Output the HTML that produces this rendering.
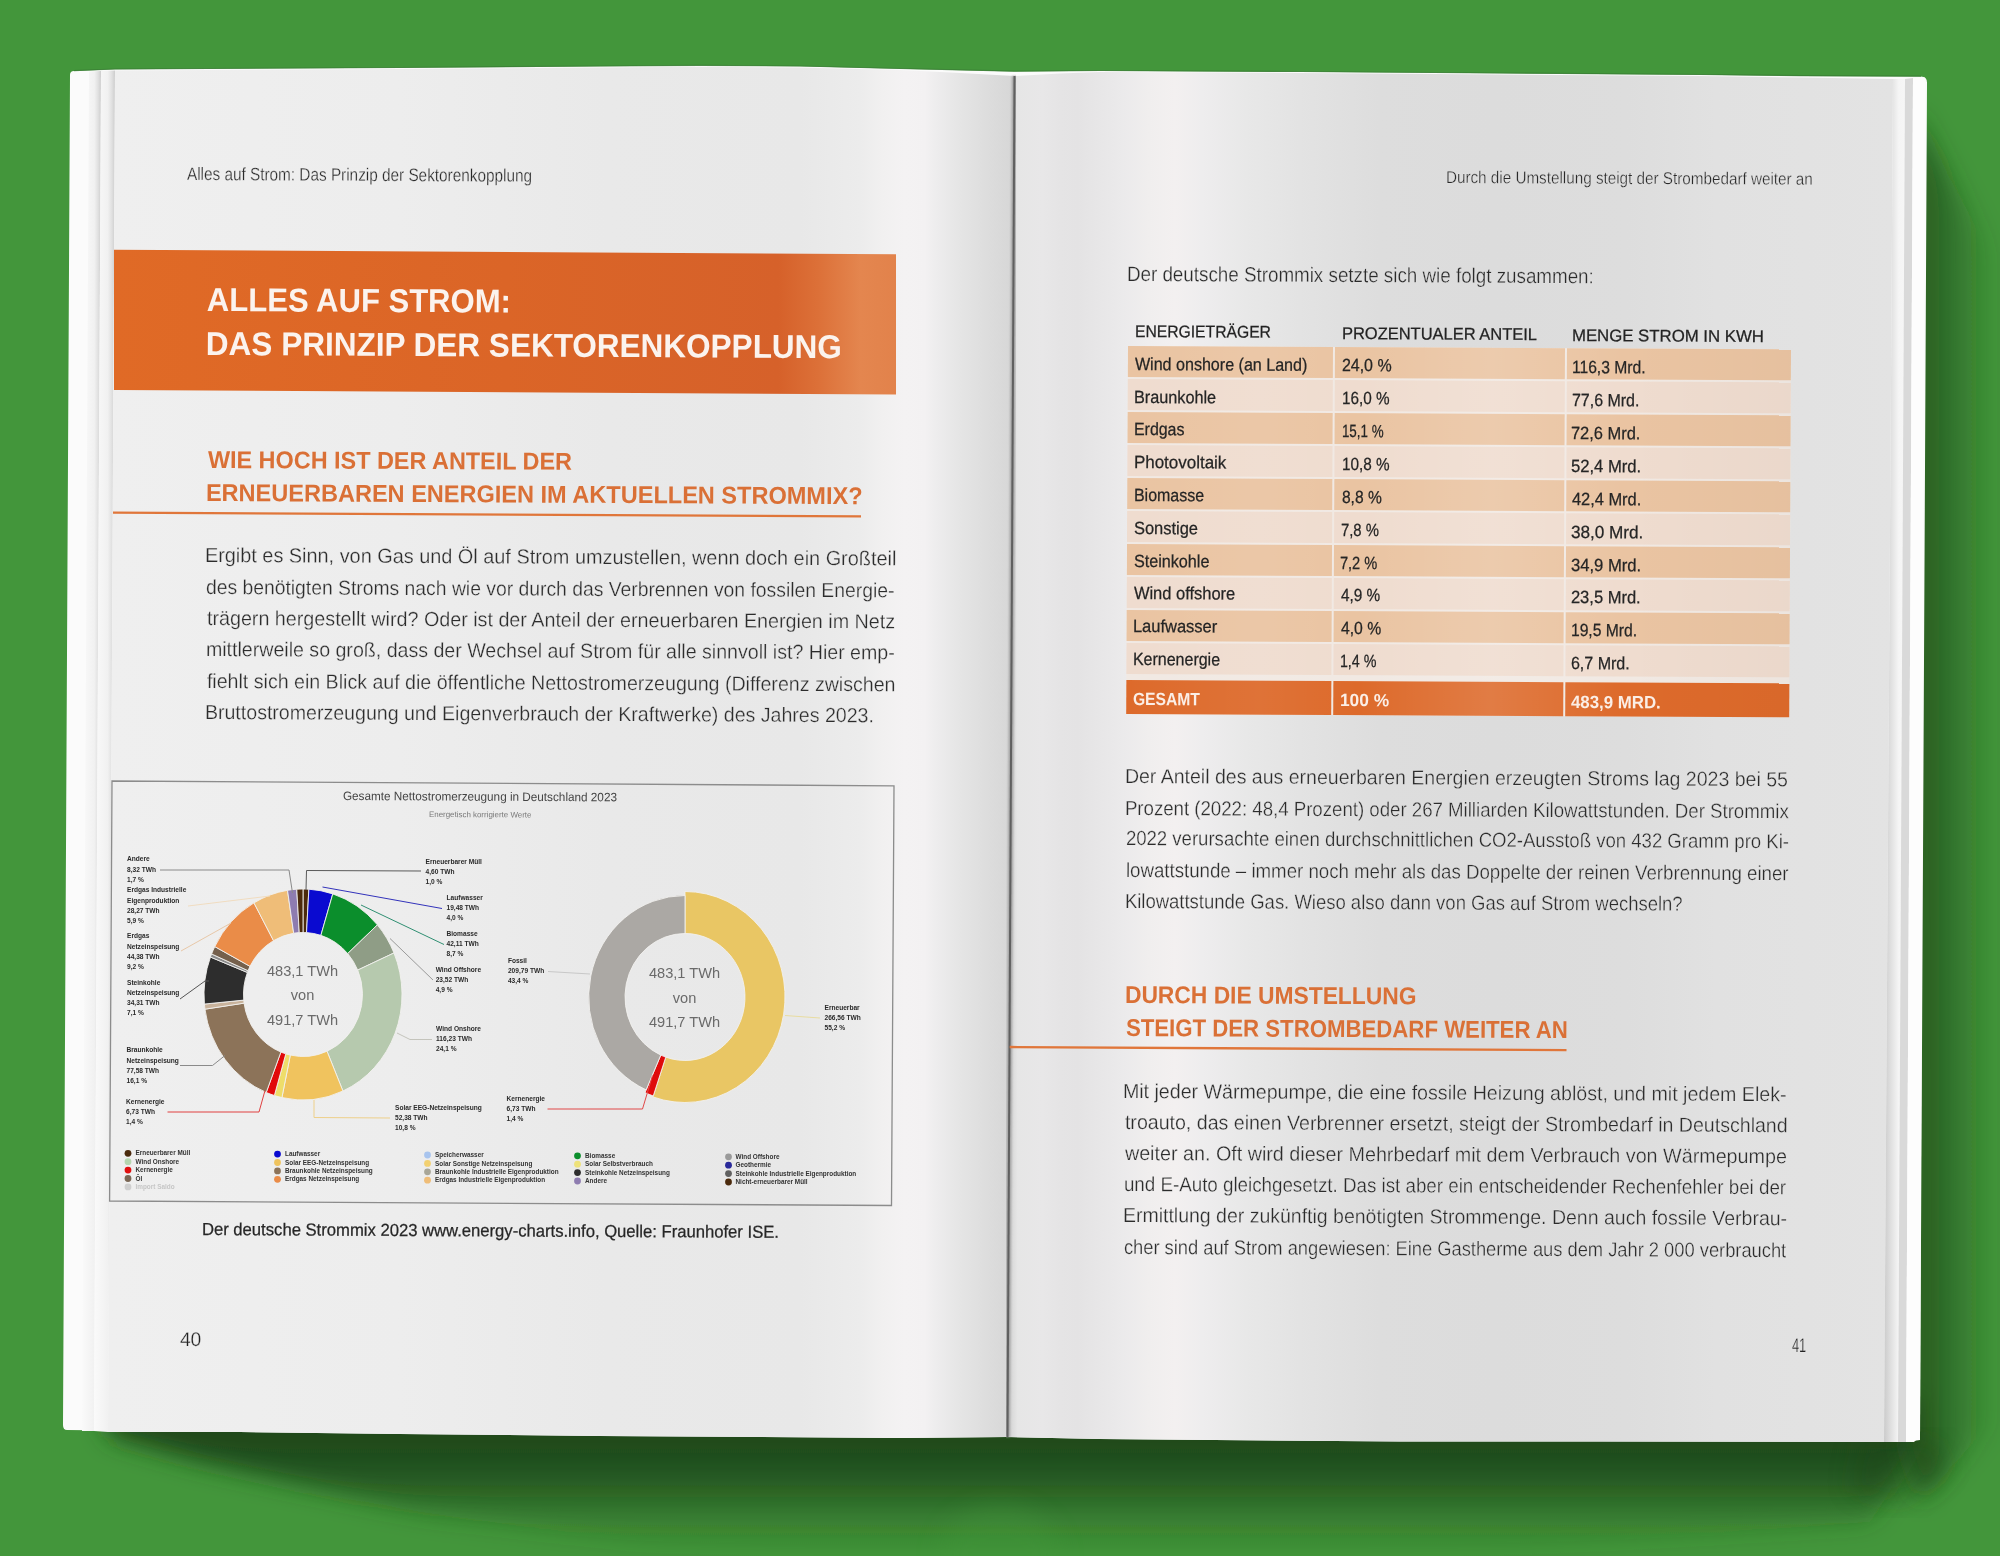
<!DOCTYPE html>
<html><head><meta charset="utf-8"><title>Strommix</title>
<style>
html,body{margin:0;padding:0;}
body{width:2000px;height:1556px;position:relative;overflow:hidden;background:#43963b;font-family:"Liberation Sans",sans-serif;}
.abs{position:absolute;left:0;top:0;}
.t{position:absolute;white-space:pre;line-height:1;transform-origin:0 0;font-family:"Liberation Sans",sans-serif;-webkit-font-smoothing:antialiased;}
#content{position:absolute;left:0;top:0;width:2000px;height:1556px;will-change:transform;}
</style></head><body>
<svg class="abs" width="2000" height="1556" viewBox="0 0 2000 1556">
<defs>
 <filter id="blur20" x="-20%" y="-50%" width="140%" height="200%"><feGaussianBlur stdDeviation="12"/></filter>
 <filter id="blur10" x="-50%" y="-20%" width="200%" height="140%"><feGaussianBlur stdDeviation="12"/></filter>
 <filter id="blur15" x="-100%" y="-20%" width="300%" height="140%"><feGaussianBlur stdDeviation="16"/></filter>
 <filter id="blur2"><feGaussianBlur stdDeviation="1.2"/></filter>
 <linearGradient id="lp" gradientUnits="userSpaceOnUse" x1="108" y1="0" x2="1014.5" y2="0">
  <stop offset="0" stop-color="#efefef"/>
  <stop offset="0.32" stop-color="#ededed"/>
  <stop offset="0.55" stop-color="#e9e9e9"/>
  <stop offset="0.763" stop-color="#e8e8e8"/>
  <stop offset="0.83" stop-color="#ececec"/>
  <stop offset="0.854" stop-color="#f1f0f0"/>
  <stop offset="0.879" stop-color="#f4f2f3"/>
  <stop offset="0.901" stop-color="#f3f1f2"/>
  <stop offset="0.912" stop-color="#eeedee"/>
  <stop offset="0.94" stop-color="#e5e5e5"/>
  <stop offset="0.973" stop-color="#dcdcdc"/>
  <stop offset="1" stop-color="#d6d6d6"/>
 </linearGradient>
 <linearGradient id="rp" gradientUnits="userSpaceOnUse" x1="1007" y1="0" x2="1893" y2="0">
  <stop offset="0" stop-color="#cfcfcf"/>
  <stop offset="0.012" stop-color="#e6e6e6"/>
  <stop offset="0.04" stop-color="#e8e7e8"/>
  <stop offset="0.06" stop-color="#e5e4e5"/>
  <stop offset="0.08" stop-color="#e4e3e4"/>
  <stop offset="0.13" stop-color="#ebeaeb"/>
  <stop offset="0.16" stop-color="#f0eeee"/>
  <stop offset="0.19" stop-color="#f3f0f0"/>
  <stop offset="0.22" stop-color="#eeedee"/>
  <stop offset="0.27" stop-color="#e8e8e8"/>
  <stop offset="0.33" stop-color="#e3e3e3"/>
  <stop offset="0.42" stop-color="#dddddd"/>
  <stop offset="0.55" stop-color="#dcdcdc"/>
  <stop offset="0.7" stop-color="#dddddd"/>
  <stop offset="0.8" stop-color="#e1e1e1"/>
  <stop offset="1" stop-color="#e3e3e3"/>
 </linearGradient>
 <linearGradient id="lay1" gradientUnits="objectBoundingBox" x1="0" y1="0" x2="1" y2="0">
  <stop offset="0" stop-color="#fafafa"/><stop offset="0.65" stop-color="#f1f1f1"/><stop offset="0.85" stop-color="#e0e0e0"/><stop offset="1" stop-color="#cdcdcd"/>
 </linearGradient>
 <linearGradient id="lay2" gradientUnits="objectBoundingBox" x1="0" y1="0" x2="1" y2="0">
  <stop offset="0" stop-color="#cbcbcb"/><stop offset="0.3" stop-color="#dedede"/><stop offset="0.7" stop-color="#f5f5f5"/><stop offset="1" stop-color="#f6f6f6"/>
 </linearGradient>
 <linearGradient id="ban" gradientUnits="userSpaceOnUse" x1="114" y1="0" x2="896" y2="0">
  <stop offset="0" stop-color="#e06a26"/>
  <stop offset="0.5" stop-color="#db6527"/>
  <stop offset="0.85" stop-color="#d6612a"/>
  <stop offset="0.9" stop-color="#dc7038"/>
  <stop offset="0.955" stop-color="#e4864f"/>
  <stop offset="1" stop-color="#e2824b"/>
 </linearGradient>
</defs>
<rect width="2000" height="1556" fill="#43963b"/>
<!-- shadows -->
<linearGradient id="shv" gradientUnits="userSpaceOnUse" x1="0" y1="1400" x2="0" y2="1556">
 <stop offset="0" stop-color="#1b4317" stop-opacity="0.95"/>
 <stop offset="0.3" stop-color="#1b4317" stop-opacity="0.92"/>
 <stop offset="0.5" stop-color="#1b4317" stop-opacity="0.75"/>
 <stop offset="0.75" stop-color="#1b4317" stop-opacity="0.3"/>
 <stop offset="1" stop-color="#1b4317" stop-opacity="0"/>
</linearGradient>
<linearGradient id="shh" gradientUnits="userSpaceOnUse" x1="1915" y1="0" x2="1995" y2="0">
 <stop offset="0" stop-color="#1b4317" stop-opacity="0.75"/>
 <stop offset="0.35" stop-color="#1b4317" stop-opacity="0.5"/>
 <stop offset="1" stop-color="#1b4317" stop-opacity="0"/>
</linearGradient>
<polygon points="100,1400 1008,1400 1918,1400 1918,1442 1870,1522 1500,1550 1060,1560 940,1560 650,1545 420,1512 200,1462 110,1436" fill="url(#shv)" filter="url(#blur20)"/>

<polygon points="1912,110 1995,260 1995,1420 1920,1500 1905,1450" fill="url(#shh)" filter="url(#blur10)"/>
<polygon points="1860,1440 1935,1440 1950,1470 1900,1505 1850,1490" fill="#1b4317" opacity="0.35" filter="url(#blur10)"/>
<ellipse cx="1000" cy="1556" rx="60" ry="50" fill="#43963b" opacity="0.35" filter="url(#blur10)"/>
<!-- cover -->
<path d="M74,71 L115,69.3 L400,67.8 L600,66.3 L700,65.6 L800,66.3 L900,68.8 L1014,71.5 L1100,70.8 L1300,71.8 L1500,73.3 L1700,74.8 L1800,76 L1921,76.5 Q1927,76.5 1927,82.5 L1920,1436 L1914,1442 L1600,1441.5 L1400,1441.5 L1100,1439 L1008,1437 L900,1438 L600,1436 L400,1434 L240,1432 L67,1430 Q63,1430 63,1425 L70,75 Q70,71 74,71Z" fill="#fbfbfb"/>
<polygon points="89,71.5 101,71 94,1431 82,1431" fill="url(#lay1)"/>
<polygon points="101,71 115,70.5 108,1432 94,1431" fill="url(#lay1)"/>
<polygon points="115,70.5 400,69 600,67.5 700,66.8 800,67.5 900,70 960,73 1014.5,76 1007.5,1437 900,1438 600,1436 400,1434 240,1432 108,1432" fill="url(#lp)"/>
<polygon points="1014.5,76 1060,73.5 1100,72 1300,73 1500,74.5 1700,76 1800,77.5 1893,79 1884,1442 1600,1441.5 1400,1441.5 1100,1439 1007.5,1437" fill="url(#rp)"/>
<polygon points="1893,79 1905,79 1898,1442 1884,1442" fill="url(#lay2)"/>
<polygon points="1905,79 1913,78 1906,1442 1898,1442" fill="#d9d9d9"/>
<polygon points="1913,78 1925,77.5 1920,1440 1906,1442" fill="#fdfdfd"/>
<polyline points="74,70.6 115,69 400,67.5 600,66 700,65.3 800,66 900,68.5 1014,71.2 1100,70.5 1300,71.5 1500,73 1700,74.5 1800,75.7 1921,76.2" fill="none" stroke="#3a7d34" stroke-width="1.2" opacity="0.8"/>
<line x1="1014.5" y1="76" x2="1007.5" y2="1437" stroke="#a0a0a0" stroke-width="5" filter="url(#blur2)"/>
<line x1="1014.5" y1="76" x2="1007.5" y2="1437" stroke="#606060" stroke-width="2"/>
<!-- banner -->
<polygon points="114,249.8 896,254.2 896,394.4 114,390" fill="url(#ban)"/>
<!-- heading underlines -->
<line x1="113" y1="512.6" x2="861" y2="516.4" stroke="#e0763a" stroke-width="2.3"/>
<line x1="1009.7" y1="1047" x2="1566.5" y2="1050.2" stroke="#e0763a" stroke-width="2.3"/>
<!-- chart frame -->
<polygon points="112,781 894,785.8 891.5,1205.5 109.6,1201" fill="none" stroke="#8c8c8c" stroke-width="1.3"/>

<g>
<path d="M303.00 889.00A99.00 105.50 0 0 1 308.87 889.19L306.53 932.61A59.50 62.00 0 0 0 303.00 932.50Z" fill="#4b2a0c" stroke="#f2f0ee" stroke-width="0.9"/>
<path d="M308.87 889.19A99.00 105.50 0 0 1 332.77 893.88L320.89 935.37A59.50 62.00 0 0 0 306.53 932.61Z" fill="#0a0ad0" stroke="#f2f0ee" stroke-width="0.9"/>
<path d="M332.77 893.88A99.00 105.50 0 0 1 377.38 924.87L347.70 953.58A59.50 62.00 0 0 0 320.89 935.37Z" fill="#0b8e2c" stroke="#f2f0ee" stroke-width="0.9"/>
<path d="M377.38 924.87A99.00 105.50 0 0 1 393.99 952.94L357.69 970.08A59.50 62.00 0 0 0 347.70 953.58Z" fill="#8f9d86" stroke="#f2f0ee" stroke-width="0.9"/>
<path d="M393.99 952.94A99.00 105.50 0 0 1 342.95 1091.03L327.01 1051.23A59.50 62.00 0 0 0 357.69 970.08Z" fill="#b6c9ae" stroke="#f2f0ee" stroke-width="0.9"/>
<path d="M342.95 1091.03A99.00 105.50 0 0 1 281.91 1097.58L290.32 1055.08A59.50 62.00 0 0 0 327.01 1051.23Z" fill="#f0c35e" stroke="#f2f0ee" stroke-width="0.9"/>
<path d="M281.91 1097.58A99.00 105.50 0 0 1 274.39 1095.50L285.80 1053.85A59.50 62.00 0 0 0 290.32 1055.08Z" fill="#eedd6a" stroke="#f2f0ee" stroke-width="0.9"/>
<path d="M274.39 1095.50A99.00 105.50 0 0 1 266.23 1092.46L280.90 1052.07A59.50 62.00 0 0 0 285.80 1053.85Z" fill="#e10a0a" stroke="#f2f0ee" stroke-width="0.9"/>
<path d="M266.23 1092.46A99.00 105.50 0 0 1 204.96 1009.18L244.08 1003.13A59.50 62.00 0 0 0 280.90 1052.07Z" fill="#8c7359" stroke="#f2f0ee" stroke-width="0.9"/>
<path d="M204.96 1009.18A99.00 105.50 0 0 1 204.41 1004.06L243.74 1000.12A59.50 62.00 0 0 0 244.08 1003.13Z" fill="#c9b39c" stroke="#f2f0ee" stroke-width="0.9"/>
<path d="M204.41 1004.06A99.00 105.50 0 0 1 210.45 957.04L247.38 972.48A59.50 62.00 0 0 0 243.74 1000.12Z" fill="#2d2d2d" stroke="#f2f0ee" stroke-width="0.9"/>
<path d="M210.45 957.04A99.00 105.50 0 0 1 211.60 953.96L248.07 970.67A59.50 62.00 0 0 0 247.38 972.48Z" fill="#8a8a8a" stroke="#f2f0ee" stroke-width="0.9"/>
<path d="M211.60 953.96A99.00 105.50 0 0 1 214.79 946.60L249.99 966.35A59.50 62.00 0 0 0 248.07 970.67Z" fill="#75604c" stroke="#f2f0ee" stroke-width="0.9"/>
<path d="M214.79 946.60A99.00 105.50 0 0 1 253.95 902.86L273.52 940.64A59.50 62.00 0 0 0 249.99 966.35Z" fill="#ea8c48" stroke="#f2f0ee" stroke-width="0.9"/>
<path d="M253.95 902.86A99.00 105.50 0 0 1 287.51 890.30L293.69 933.26A59.50 62.00 0 0 0 273.52 940.64Z" fill="#efbd78" stroke="#f2f0ee" stroke-width="0.9"/>
<path d="M287.51 890.30A99.00 105.50 0 0 1 296.78 889.21L299.26 932.62A59.50 62.00 0 0 0 293.69 933.26Z" fill="#8e7cb0" stroke="#f2f0ee" stroke-width="0.9"/>
<path d="M296.78 889.21A99.00 105.50 0 0 1 303.00 889.00L303.00 932.50A59.50 62.00 0 0 0 299.26 932.62Z" fill="#4b2a0c" stroke="#f2f0ee" stroke-width="0.9"/>
<path d="M685.00 891.50A100.00 105.50 0 1 1 652.94 1096.93L665.76 1057.15A60.00 63.50 0 1 0 685.00 933.50Z" fill="#e9c664" stroke="#f2f0ee" stroke-width="0.9"/>
<path d="M653.26 1095.98A99.00 104.50 0 0 1 645.05 1092.61L660.79 1055.10A60.00 63.50 0 0 0 665.76 1057.15Z" fill="#df0b0b" stroke="#f2f0ee" stroke-width="0.9"/>
<path d="M646.14 1089.87A96.30 101.50 0 0 1 685.00 895.50L685.00 933.50A60.00 63.50 0 0 0 660.79 1055.10Z" fill="#aba8a4" stroke="#f2f0ee" stroke-width="0.9"/>
</g>
<polyline points="160,870 289,870 292.5,893" fill="none" stroke="#8a8a8a" stroke-width="1"/>
<polyline points="306,890 306.5,870.5 421,871" fill="none" stroke="#5a5a5a" stroke-width="1"/>
<polyline points="322.5,887 442,908.5" fill="none" stroke="#3333bb" stroke-width="1"/>
<polyline points="361,905 444,944.5" fill="none" stroke="#2f8f72" stroke-width="1"/>
<polyline points="390,938.5 433,980" fill="none" stroke="#9a9a9a" stroke-width="1"/>
<polyline points="397,1033 410,1039.5 432,1039.5" fill="none" stroke="#c4c4bc" stroke-width="1"/>
<polyline points="314,1100 314,1117.5 390,1118" fill="none" stroke="#eed08a" stroke-width="1"/>
<polyline points="167.5,1112 259,1112 265,1090.5" fill="none" stroke="#e04040" stroke-width="1"/>
<polyline points="180,1065.5 212.5,1065.5 225,1055.5" fill="none" stroke="#8a8a8a" stroke-width="1"/>
<polyline points="180,999 205,981 209,981" fill="none" stroke="#555555" stroke-width="1"/>
<polyline points="181,951 231,923" fill="none" stroke="#e8c8a8" stroke-width="1"/>
<polyline points="188,906 270,896" fill="none" stroke="#f0dcc0" stroke-width="1"/>
<polyline points="548,971.5 590,974" fill="none" stroke="#c8c8c8" stroke-width="1"/>
<polyline points="547.5,1109 642.5,1109 652.5,1075.5" fill="none" stroke="#e04848" stroke-width="1"/>
<polyline points="785,1015.5 820,1018" fill="none" stroke="#e8dca0" stroke-width="1"/>
<circle cx="128.0" cy="1153.3" r="3.4" fill="#4b2a0c"/>
<circle cx="128.0" cy="1161.7" r="3.4" fill="#b6d6b0"/>
<circle cx="128.0" cy="1170.1" r="3.4" fill="#e01010"/>
<circle cx="128.0" cy="1178.5" r="3.4" fill="#7a6654"/>
<circle cx="128.0" cy="1186.9" r="3.4" fill="#cfcfcf"/>
<circle cx="277.5" cy="1154.1" r="3.4" fill="#0a0ad0"/>
<circle cx="277.5" cy="1162.5" r="3.4" fill="#efc35e"/>
<circle cx="277.5" cy="1170.9" r="3.4" fill="#8c7359"/>
<circle cx="277.5" cy="1179.3" r="3.4" fill="#ea8c48"/>
<circle cx="427.5" cy="1155.0" r="3.4" fill="#a8c4ee"/>
<circle cx="427.5" cy="1163.4" r="3.4" fill="#f2d070"/>
<circle cx="427.5" cy="1171.8" r="3.4" fill="#a8a698"/>
<circle cx="427.5" cy="1180.2" r="3.4" fill="#efbd78"/>
<circle cx="577.5" cy="1155.8" r="3.4" fill="#0b8e2c"/>
<circle cx="577.5" cy="1164.2" r="3.4" fill="#eee27a"/>
<circle cx="577.5" cy="1172.6" r="3.4" fill="#2d2d2d"/>
<circle cx="577.5" cy="1181.0" r="3.4" fill="#8e7cb0"/>
<circle cx="728.5" cy="1156.8" r="3.4" fill="#9a9a9a"/>
<circle cx="728.5" cy="1165.2" r="3.4" fill="#2a2a9a"/>
<circle cx="728.5" cy="1173.6" r="3.4" fill="#606060"/>
<circle cx="728.5" cy="1182.0" r="3.4" fill="#4b2a0c"/>
</svg>
<div id="content">
<div class="abs" style="left:1128px;top:346.1px;width:663px;height:367.5px;background:#f1e9e3;transform-origin:0 0;transform:rotate(0.28deg)"><div class="abs" style="left:0.0px;top:0.0px;width:205.0px;height:31px;background:#eac4a2"></div>
<div class="abs" style="left:207.0px;top:0.0px;width:229.5px;height:31px;background:#eac4a2"></div>
<div class="abs" style="left:438.5px;top:0.0px;width:224.5px;height:31px;background:#eac4a2"></div>
<div class="abs" style="left:0.0px;top:33.0px;width:205.0px;height:31px;background:#efdccf"></div>
<div class="abs" style="left:207.0px;top:33.0px;width:229.5px;height:31px;background:#efdccf"></div>
<div class="abs" style="left:438.5px;top:33.0px;width:224.5px;height:31px;background:#efdccf"></div>
<div class="abs" style="left:0.0px;top:66.1px;width:205.0px;height:31px;background:#eac4a2"></div>
<div class="abs" style="left:207.0px;top:66.1px;width:229.5px;height:31px;background:#eac4a2"></div>
<div class="abs" style="left:438.5px;top:66.1px;width:224.5px;height:31px;background:#eac4a2"></div>
<div class="abs" style="left:0.0px;top:99.1px;width:205.0px;height:31px;background:#efdccf"></div>
<div class="abs" style="left:207.0px;top:99.1px;width:229.5px;height:31px;background:#efdccf"></div>
<div class="abs" style="left:438.5px;top:99.1px;width:224.5px;height:31px;background:#efdccf"></div>
<div class="abs" style="left:0.0px;top:132.2px;width:205.0px;height:31px;background:#eac4a2"></div>
<div class="abs" style="left:207.0px;top:132.2px;width:229.5px;height:31px;background:#eac4a2"></div>
<div class="abs" style="left:438.5px;top:132.2px;width:224.5px;height:31px;background:#eac4a2"></div>
<div class="abs" style="left:0.0px;top:165.2px;width:205.0px;height:31px;background:#efdccf"></div>
<div class="abs" style="left:207.0px;top:165.2px;width:229.5px;height:31px;background:#efdccf"></div>
<div class="abs" style="left:438.5px;top:165.2px;width:224.5px;height:31px;background:#efdccf"></div>
<div class="abs" style="left:0.0px;top:198.2px;width:205.0px;height:31px;background:#eac4a2"></div>
<div class="abs" style="left:207.0px;top:198.2px;width:229.5px;height:31px;background:#eac4a2"></div>
<div class="abs" style="left:438.5px;top:198.2px;width:224.5px;height:31px;background:#eac4a2"></div>
<div class="abs" style="left:0.0px;top:231.3px;width:205.0px;height:31px;background:#efdccf"></div>
<div class="abs" style="left:207.0px;top:231.3px;width:229.5px;height:31px;background:#efdccf"></div>
<div class="abs" style="left:438.5px;top:231.3px;width:224.5px;height:31px;background:#efdccf"></div>
<div class="abs" style="left:0.0px;top:264.3px;width:205.0px;height:31px;background:#eac4a2"></div>
<div class="abs" style="left:207.0px;top:264.3px;width:229.5px;height:31px;background:#eac4a2"></div>
<div class="abs" style="left:438.5px;top:264.3px;width:224.5px;height:31px;background:#eac4a2"></div>
<div class="abs" style="left:0.0px;top:297.4px;width:205.0px;height:31px;background:#efdccf"></div>
<div class="abs" style="left:207.0px;top:297.4px;width:229.5px;height:31px;background:#efdccf"></div>
<div class="abs" style="left:438.5px;top:297.4px;width:224.5px;height:31px;background:#efdccf"></div>
<div class="abs" style="left:0.0px;top:334px;width:205.0px;height:33.5px;background:#dd6a2b"></div>
<div class="abs" style="left:207.0px;top:334px;width:229.5px;height:33.5px;background:#dd6a2b"></div>
<div class="abs" style="left:438.5px;top:334px;width:224.5px;height:33.5px;background:#dd6a2b"></div>
<div class="abs" style="left:0;top:0;width:663px;height:368px;background:linear-gradient(90deg,rgba(255,255,255,0) 0%,rgba(255,255,255,0.06) 20%,rgba(255,255,255,0.0) 35%,rgba(255,255,255,0.12) 55%,rgba(255,255,255,0.0) 75%,rgba(0,0,0,0.02) 100%)"></div></div>
<div class="t c" style="left:302.5px;top:964.1px;width:120px;margin-left:-60px;font-size:14.6px;color:#6a6a6a;text-align:center">483,1 TWh</div>
<div class="t c" style="left:302.5px;top:988.4px;width:120px;margin-left:-60px;font-size:14.6px;color:#6a6a6a;text-align:center">von</div>
<div class="t c" style="left:302.5px;top:1012.7px;width:120px;margin-left:-60px;font-size:14.6px;color:#6a6a6a;text-align:center">491,7 TWh</div>
<div class="t c" style="left:684.5px;top:966.3px;width:120px;margin-left:-60px;font-size:14.6px;color:#6a6a6a;text-align:center">483,1 TWh</div>
<div class="t c" style="left:684.5px;top:990.6px;width:120px;margin-left:-60px;font-size:14.6px;color:#6a6a6a;text-align:center">von</div>
<div class="t c" style="left:684.5px;top:1014.9px;width:120px;margin-left:-60px;font-size:14.6px;color:#6a6a6a;text-align:center">491,7 TWh</div>
<div class="t" style="left:127.0px;top:856.4px;font-size:6.6px;font-weight:700;color:#2a2a2a">Andere</div>
<div class="t" style="left:127.0px;top:866.5px;font-size:6.6px;font-weight:700;color:#2a2a2a">8,32 TWh</div>
<div class="t" style="left:127.0px;top:876.6px;font-size:6.6px;font-weight:700;color:#2a2a2a">1,7 %</div>
<div class="t" style="left:127.0px;top:887.4px;font-size:6.6px;font-weight:700;color:#2a2a2a">Erdgas Industrielle</div>
<div class="t" style="left:127.0px;top:897.5px;font-size:6.6px;font-weight:700;color:#2a2a2a">Eigenproduktion</div>
<div class="t" style="left:127.0px;top:907.6px;font-size:6.6px;font-weight:700;color:#2a2a2a">28,27 TWh</div>
<div class="t" style="left:127.0px;top:917.7px;font-size:6.6px;font-weight:700;color:#2a2a2a">5,9 %</div>
<div class="t" style="left:127.0px;top:933.4px;font-size:6.6px;font-weight:700;color:#2a2a2a">Erdgas</div>
<div class="t" style="left:127.0px;top:943.5px;font-size:6.6px;font-weight:700;color:#2a2a2a">Netzeinspeisung</div>
<div class="t" style="left:127.0px;top:953.6px;font-size:6.6px;font-weight:700;color:#2a2a2a">44,38 TWh</div>
<div class="t" style="left:127.0px;top:963.7px;font-size:6.6px;font-weight:700;color:#2a2a2a">9,2 %</div>
<div class="t" style="left:127.0px;top:979.9px;font-size:6.6px;font-weight:700;color:#2a2a2a">Steinkohle</div>
<div class="t" style="left:127.0px;top:990.0px;font-size:6.6px;font-weight:700;color:#2a2a2a">Netzeinspeisung</div>
<div class="t" style="left:127.0px;top:1000.1px;font-size:6.6px;font-weight:700;color:#2a2a2a">34,31 TWh</div>
<div class="t" style="left:127.0px;top:1010.2px;font-size:6.6px;font-weight:700;color:#2a2a2a">7,1 %</div>
<div class="t" style="left:126.5px;top:1047.4px;font-size:6.6px;font-weight:700;color:#2a2a2a">Braunkohle</div>
<div class="t" style="left:126.5px;top:1057.5px;font-size:6.6px;font-weight:700;color:#2a2a2a">Netzeinspeisung</div>
<div class="t" style="left:126.5px;top:1067.6px;font-size:6.6px;font-weight:700;color:#2a2a2a">77,58 TWh</div>
<div class="t" style="left:126.5px;top:1077.7px;font-size:6.6px;font-weight:700;color:#2a2a2a">16,1 %</div>
<div class="t" style="left:126.0px;top:1098.9px;font-size:6.6px;font-weight:700;color:#2a2a2a">Kernenergie</div>
<div class="t" style="left:126.0px;top:1109.0px;font-size:6.6px;font-weight:700;color:#2a2a2a">6,73 TWh</div>
<div class="t" style="left:126.0px;top:1119.1px;font-size:6.6px;font-weight:700;color:#2a2a2a">1,4 %</div>
<div class="t" style="left:425.5px;top:858.6px;font-size:6.6px;font-weight:700;color:#2a2a2a">Erneuerbarer Müll</div>
<div class="t" style="left:425.5px;top:868.7px;font-size:6.6px;font-weight:700;color:#2a2a2a">4,60 TWh</div>
<div class="t" style="left:425.5px;top:878.8px;font-size:6.6px;font-weight:700;color:#2a2a2a">1,0 %</div>
<div class="t" style="left:446.5px;top:895.0px;font-size:6.6px;font-weight:700;color:#2a2a2a">Laufwasser</div>
<div class="t" style="left:446.5px;top:905.1px;font-size:6.6px;font-weight:700;color:#2a2a2a">19,48 TWh</div>
<div class="t" style="left:446.5px;top:915.2px;font-size:6.6px;font-weight:700;color:#2a2a2a">4,0 %</div>
<div class="t" style="left:446.5px;top:930.8px;font-size:6.6px;font-weight:700;color:#2a2a2a">Biomasse</div>
<div class="t" style="left:446.5px;top:940.9px;font-size:6.6px;font-weight:700;color:#2a2a2a">42,11 TWh</div>
<div class="t" style="left:446.5px;top:951.0px;font-size:6.6px;font-weight:700;color:#2a2a2a">8,7 %</div>
<div class="t" style="left:435.7px;top:967.2px;font-size:6.6px;font-weight:700;color:#2a2a2a">Wind Offshore</div>
<div class="t" style="left:435.7px;top:977.3px;font-size:6.6px;font-weight:700;color:#2a2a2a">23,52 TWh</div>
<div class="t" style="left:435.7px;top:987.4px;font-size:6.6px;font-weight:700;color:#2a2a2a">4,9 %</div>
<div class="t" style="left:436.0px;top:1026.0px;font-size:6.6px;font-weight:700;color:#2a2a2a">Wind Onshore</div>
<div class="t" style="left:436.0px;top:1036.1px;font-size:6.6px;font-weight:700;color:#2a2a2a">116,23 TWh</div>
<div class="t" style="left:436.0px;top:1046.2px;font-size:6.6px;font-weight:700;color:#2a2a2a">24,1 %</div>
<div class="t" style="left:395.0px;top:1104.9px;font-size:6.6px;font-weight:700;color:#2a2a2a">Solar EEG-Netzeinspeisung</div>
<div class="t" style="left:395.0px;top:1115.0px;font-size:6.6px;font-weight:700;color:#2a2a2a">52,38 TWh</div>
<div class="t" style="left:395.0px;top:1125.1px;font-size:6.6px;font-weight:700;color:#2a2a2a">10,8 %</div>
<div class="t" style="left:507.9px;top:957.8px;font-size:6.6px;font-weight:700;color:#2a2a2a">Fossil</div>
<div class="t" style="left:507.9px;top:967.9px;font-size:6.6px;font-weight:700;color:#2a2a2a">209,79 TWh</div>
<div class="t" style="left:507.9px;top:978.0px;font-size:6.6px;font-weight:700;color:#2a2a2a">43,4 %</div>
<div class="t" style="left:506.5px;top:1095.9px;font-size:6.6px;font-weight:700;color:#2a2a2a">Kernenergie</div>
<div class="t" style="left:506.5px;top:1106.0px;font-size:6.6px;font-weight:700;color:#2a2a2a">6,73 TWh</div>
<div class="t" style="left:506.5px;top:1116.1px;font-size:6.6px;font-weight:700;color:#2a2a2a">1,4 %</div>
<div class="t" style="left:824.5px;top:1004.9px;font-size:6.6px;font-weight:700;color:#2a2a2a">Erneuerbar</div>
<div class="t" style="left:824.5px;top:1015.0px;font-size:6.6px;font-weight:700;color:#2a2a2a">266,56 TWh</div>
<div class="t" style="left:824.5px;top:1025.1px;font-size:6.6px;font-weight:700;color:#2a2a2a">55,2 %</div>
<div class="t" style="left:135.5px;top:1150.4px;font-size:6.4px;font-weight:700;color:#333">Erneuerbarer Müll</div>
<div class="t" style="left:135.5px;top:1158.8px;font-size:6.4px;font-weight:700;color:#333">Wind Onshore</div>
<div class="t" style="left:135.5px;top:1167.2px;font-size:6.4px;font-weight:700;color:#333">Kernenergie</div>
<div class="t" style="left:135.5px;top:1175.6px;font-size:6.4px;font-weight:700;color:#333">Öl</div>
<div class="t" style="left:135.5px;top:1184.0px;font-size:6.4px;font-weight:700;color:#c6c6c6">Import Saldo</div>
<div class="t" style="left:285.0px;top:1151.2px;font-size:6.4px;font-weight:700;color:#333">Laufwasser</div>
<div class="t" style="left:285.0px;top:1159.6px;font-size:6.4px;font-weight:700;color:#333">Solar EEG-Netzeinspeisung</div>
<div class="t" style="left:285.0px;top:1168.0px;font-size:6.4px;font-weight:700;color:#333">Braunkohle Netzeinspeisung</div>
<div class="t" style="left:285.0px;top:1176.4px;font-size:6.4px;font-weight:700;color:#333">Erdgas Netzeinspeisung</div>
<div class="t" style="left:435.0px;top:1152.1px;font-size:6.4px;font-weight:700;color:#333">Speicherwasser</div>
<div class="t" style="left:435.0px;top:1160.5px;font-size:6.4px;font-weight:700;color:#333">Solar Sonstige Netzeinspeisung</div>
<div class="t" style="left:435.0px;top:1168.9px;font-size:6.4px;font-weight:700;color:#333">Braunkohle Industrielle Eigenproduktion</div>
<div class="t" style="left:435.0px;top:1177.3px;font-size:6.4px;font-weight:700;color:#333">Erdgas Industrielle Eigenproduktion</div>
<div class="t" style="left:585.0px;top:1152.9px;font-size:6.4px;font-weight:700;color:#333">Biomasse</div>
<div class="t" style="left:585.0px;top:1161.3px;font-size:6.4px;font-weight:700;color:#333">Solar Selbstverbrauch</div>
<div class="t" style="left:585.0px;top:1169.7px;font-size:6.4px;font-weight:700;color:#333">Steinkohle Netzeinspeisung</div>
<div class="t" style="left:585.0px;top:1178.1px;font-size:6.4px;font-weight:700;color:#333">Andere</div>
<div class="t" style="left:735.5px;top:1153.9px;font-size:6.4px;font-weight:700;color:#333">Wind Offshore</div>
<div class="t" style="left:735.5px;top:1162.3px;font-size:6.4px;font-weight:700;color:#333">Geothermie</div>
<div class="t" style="left:735.5px;top:1170.7px;font-size:6.4px;font-weight:700;color:#333">Steinkohle Industrielle Eigenproduktion</div>
<div class="t" style="left:735.5px;top:1179.1px;font-size:6.4px;font-weight:700;color:#333">Nicht-erneuerbarer Müll</div>
<div class="t" style="left:187.00px;top:164.76px;font-size:18.00px;font-weight:400;color:#2a2a2a;-webkit-text-stroke:0.28px #ebebeb;transform:rotate(0.28deg) scaleX(0.8515)">Alles auf Strom: Das Prinzip der Sektorenkopplung</div>
<div class="t" style="left:207.06px;top:283.06px;font-size:33.00px;font-weight:700;color:#fbf3ee;transform:rotate(0.28deg) scaleX(0.9404)">ALLES AUF STROM:</div>
<div class="t" style="left:206.09px;top:326.56px;font-size:33.00px;font-weight:700;color:#fbf3ee;transform:rotate(0.28deg) scaleX(0.9547)">DAS PRINZIP DER SEKTORENKOPPLUNG</div>
<div class="t" style="left:208.00px;top:448.06px;font-size:24.50px;font-weight:700;color:#da7036;transform:rotate(0.28deg) scaleX(0.9554)">WIE HOCH IST DER ANTEIL DER</div>
<div class="t" style="left:206.08px;top:480.56px;font-size:24.50px;font-weight:700;color:#da7036;transform:rotate(0.28deg) scaleX(0.9603)">ERNEUERBAREN ENERGIEN IM AKTUELLEN STROMMIX?</div>
<div class="t" style="left:204.55px;top:545.13px;font-size:20.40px;font-weight:400;color:#2c2c2c;-webkit-text-stroke:0.28px #ebebeb;transform:rotate(0.28deg) scaleX(0.9745)">Ergibt es Sinn, von Gas und Öl auf Strom umzustellen, wenn doch ein Großteil</div>
<div class="t" style="left:205.55px;top:576.73px;font-size:20.40px;font-weight:400;color:#2c2c2c;-webkit-text-stroke:0.28px #ebebeb;transform:rotate(0.28deg) scaleX(0.9476)">des benötigten Stroms nach wie vor durch das Verbrennen von fossilen Energie-</div>
<div class="t" style="left:206.50px;top:607.73px;font-size:20.40px;font-weight:400;color:#2c2c2c;-webkit-text-stroke:0.28px #ebebeb;transform:rotate(0.28deg) scaleX(0.9669)">trägern hergestellt wird? Oder ist der Anteil der erneuerbaren Energien im Netz</div>
<div class="t" style="left:205.54px;top:639.23px;font-size:20.40px;font-weight:400;color:#2c2c2c;-webkit-text-stroke:0.28px #ebebeb;transform:rotate(0.28deg) scaleX(0.9608)">mittlerweile so groß, dass der Wechsel auf Strom für alle sinnvoll ist? Hier emp-</div>
<div class="t" style="left:206.50px;top:670.73px;font-size:20.40px;font-weight:400;color:#2c2c2c;-webkit-text-stroke:0.28px #ebebeb;transform:rotate(0.28deg) scaleX(0.9608)">fiehlt sich ein Blick auf die öffentliche Nettostromerzeugung (Differenz zwischen</div>
<div class="t" style="left:204.58px;top:701.73px;font-size:20.40px;font-weight:400;color:#2c2c2c;-webkit-text-stroke:0.28px #ebebeb;transform:rotate(0.28deg) scaleX(0.9597)">Bruttostromerzeugung und Eigenverbrauch der Kraftwerke) des Jahres 2023.</div>
<div class="t" style="left:343.04px;top:790.17px;font-size:12.20px;font-weight:400;color:#444;transform:rotate(0.28deg) scaleX(0.9629)">Gesamte Nettostromerzeugung in Deutschland 2023</div>
<div class="t" style="left:429.01px;top:810.73px;font-size:8.00px;font-weight:400;color:#777;transform:rotate(0.28deg) scaleX(0.9902)">Energetisch korrigierte Werte</div>
<div class="t" style="left:201.54px;top:1221.27px;font-size:17.40px;font-weight:400;color:#262626;-webkit-text-stroke:0.25px currentColor;transform:rotate(0.28deg) scaleX(0.9567)">Der deutsche Strommix 2023 www.energy-charts.info, Quelle: Fraunhofer ISE.</div>
<div class="t" style="left:179.60px;top:1330.44px;font-size:19.80px;font-weight:400;color:#222;-webkit-text-stroke:0.28px #ebebeb;transform:rotate(0.28deg) scaleX(0.9714)">40</div>
<div class="t" style="left:1446.11px;top:168.94px;font-size:17.20px;font-weight:400;color:#2a2a2a;-webkit-text-stroke:0.28px #ebebeb;transform:rotate(0.28deg) scaleX(0.8869)">Durch die Umstellung steigt der Strombedarf weiter an</div>
<div class="t" style="left:1127.40px;top:263.50px;font-size:20.90px;font-weight:400;color:#2a2a2a;-webkit-text-stroke:0.28px #ebebeb;transform:rotate(0.28deg) scaleX(0.8996)">Der deutsche Strommix setzte sich wie folgt zusammen:</div>
<div class="t" style="left:1134.87px;top:324.19px;font-size:16.90px;font-weight:400;color:#222;-webkit-text-stroke:0.25px currentColor;transform:rotate(0.28deg) scaleX(0.9290)">ENERGIETRÄGER</div>
<div class="t" style="left:1342.22px;top:326.39px;font-size:16.90px;font-weight:400;color:#222;-webkit-text-stroke:0.25px currentColor;transform:rotate(0.28deg) scaleX(0.9754)">PROZENTUALER ANTEIL</div>
<div class="t" style="left:1571.91px;top:328.39px;font-size:16.90px;font-weight:400;color:#222;-webkit-text-stroke:0.25px currentColor;transform:rotate(0.28deg) scaleX(0.9932)">MENGE STROM IN KWH</div>
<div class="t" style="left:1135.10px;top:355.51px;font-size:17.70px;font-weight:400;color:#252525;-webkit-text-stroke:0.25px currentColor;transform:rotate(0.28deg) scaleX(0.9085)">Wind onshore (an Land)</div>
<div class="t" style="left:1341.50px;top:356.91px;font-size:17.70px;font-weight:400;color:#252525;-webkit-text-stroke:0.25px currentColor;transform:rotate(0.28deg) scaleX(0.9019)">24,0 %</div>
<div class="t" style="left:1571.52px;top:359.01px;font-size:17.70px;font-weight:400;color:#252525;-webkit-text-stroke:0.25px currentColor;transform:rotate(0.28deg) scaleX(0.8840)">116,3 Mrd.</div>
<div class="t" style="left:1134.18px;top:388.51px;font-size:17.70px;font-weight:400;color:#252525;-webkit-text-stroke:0.25px currentColor;transform:rotate(0.28deg) scaleX(0.9182)">Braunkohle</div>
<div class="t" style="left:1341.54px;top:389.81px;font-size:17.70px;font-weight:400;color:#252525;-webkit-text-stroke:0.25px currentColor;transform:rotate(0.28deg) scaleX(0.8630)">16,0 %</div>
<div class="t" style="left:1571.50px;top:391.91px;font-size:17.70px;font-weight:400;color:#252525;-webkit-text-stroke:0.25px currentColor;transform:rotate(0.28deg) scaleX(0.9028)">77,6 Mrd.</div>
<div class="t" style="left:1134.20px;top:421.41px;font-size:17.70px;font-weight:400;color:#252525;-webkit-text-stroke:0.25px currentColor;transform:rotate(0.28deg) scaleX(0.9018)">Erdgas</div>
<div class="t" style="left:1341.64px;top:423.31px;font-size:17.70px;font-weight:400;color:#252525;-webkit-text-stroke:0.25px currentColor;transform:rotate(0.28deg) scaleX(0.7556)">15,1 %</div>
<div class="t" style="left:1571.47px;top:425.41px;font-size:17.70px;font-weight:400;color:#252525;-webkit-text-stroke:0.25px currentColor;transform:rotate(0.28deg) scaleX(0.9292)">72,6 Mrd.</div>
<div class="t" style="left:1134.14px;top:454.41px;font-size:17.70px;font-weight:400;color:#252525;-webkit-text-stroke:0.25px currentColor;transform:rotate(0.28deg) scaleX(0.9589)">Photovoltaik</div>
<div class="t" style="left:1341.54px;top:456.21px;font-size:17.70px;font-weight:400;color:#252525;-webkit-text-stroke:0.25px currentColor;transform:rotate(0.28deg) scaleX(0.8630)">10,8 %</div>
<div class="t" style="left:1570.66px;top:458.31px;font-size:17.70px;font-weight:400;color:#252525;-webkit-text-stroke:0.25px currentColor;transform:rotate(0.28deg) scaleX(0.9403)">52,4 Mrd.</div>
<div class="t" style="left:1134.20px;top:486.61px;font-size:17.70px;font-weight:400;color:#252525;-webkit-text-stroke:0.25px currentColor;transform:rotate(0.28deg) scaleX(0.9026)">Biomasse</div>
<div class="t" style="left:1341.52px;top:489.21px;font-size:17.70px;font-weight:400;color:#252525;-webkit-text-stroke:0.25px currentColor;transform:rotate(0.28deg) scaleX(0.8795)">8,8 %</div>
<div class="t" style="left:1571.60px;top:491.31px;font-size:17.70px;font-weight:400;color:#252525;-webkit-text-stroke:0.25px currentColor;transform:rotate(0.28deg) scaleX(0.9274)">42,4 Mrd.</div>
<div class="t" style="left:1133.67px;top:520.31px;font-size:17.70px;font-weight:400;color:#252525;-webkit-text-stroke:0.25px currentColor;transform:rotate(0.28deg) scaleX(0.9299)">Sonstige</div>
<div class="t" style="left:1340.76px;top:522.11px;font-size:17.70px;font-weight:400;color:#252525;-webkit-text-stroke:0.25px currentColor;transform:rotate(0.28deg) scaleX(0.8386)">7,8 %</div>
<div class="t" style="left:1570.63px;top:523.71px;font-size:17.70px;font-weight:400;color:#252525;-webkit-text-stroke:0.25px currentColor;transform:rotate(0.28deg) scaleX(0.9694)">38,0 Mrd.</div>
<div class="t" style="left:1133.69px;top:552.51px;font-size:17.70px;font-weight:400;color:#252525;-webkit-text-stroke:0.25px currentColor;transform:rotate(0.28deg) scaleX(0.9136)">Steinkohle</div>
<div class="t" style="left:1340.27px;top:555.01px;font-size:17.70px;font-weight:400;color:#252525;-webkit-text-stroke:0.25px currentColor;transform:rotate(0.28deg) scaleX(0.8250)">7,2 %</div>
<div class="t" style="left:1570.66px;top:556.61px;font-size:17.70px;font-weight:400;color:#252525;-webkit-text-stroke:0.25px currentColor;transform:rotate(0.28deg) scaleX(0.9403)">34,9 Mrd.</div>
<div class="t" style="left:1134.20px;top:585.01px;font-size:17.70px;font-weight:400;color:#252525;-webkit-text-stroke:0.25px currentColor;transform:rotate(0.28deg) scaleX(0.9306)">Wind offshore</div>
<div class="t" style="left:1341.10px;top:587.41px;font-size:17.70px;font-weight:400;color:#252525;-webkit-text-stroke:0.25px currentColor;transform:rotate(0.28deg) scaleX(0.8667)">4,9 %</div>
<div class="t" style="left:1570.67px;top:588.71px;font-size:17.70px;font-weight:400;color:#252525;-webkit-text-stroke:0.25px currentColor;transform:rotate(0.28deg) scaleX(0.9333)">23,5 Mrd.</div>
<div class="t" style="left:1133.27px;top:618.01px;font-size:17.70px;font-weight:400;color:#252525;-webkit-text-stroke:0.25px currentColor;transform:rotate(0.28deg) scaleX(0.9326)">Laufwasser</div>
<div class="t" style="left:1341.10px;top:620.31px;font-size:17.70px;font-weight:400;color:#252525;-webkit-text-stroke:0.25px currentColor;transform:rotate(0.28deg) scaleX(0.8889)">4,0 %</div>
<div class="t" style="left:1570.72px;top:621.71px;font-size:17.70px;font-weight:400;color:#252525;-webkit-text-stroke:0.25px currentColor;transform:rotate(0.28deg) scaleX(0.8847)">19,5 Mrd.</div>
<div class="t" style="left:1133.30px;top:651.01px;font-size:17.70px;font-weight:400;color:#252525;-webkit-text-stroke:0.25px currentColor;transform:rotate(0.28deg) scaleX(0.9042)">Kernenergie</div>
<div class="t" style="left:1340.29px;top:653.31px;font-size:17.70px;font-weight:400;color:#252525;-webkit-text-stroke:0.25px currentColor;transform:rotate(0.28deg) scaleX(0.8068)">1,4 %</div>
<div class="t" style="left:1570.69px;top:654.61px;font-size:17.70px;font-weight:400;color:#252525;-webkit-text-stroke:0.25px currentColor;transform:rotate(0.28deg) scaleX(0.9063)">6,7 Mrd.</div>
<div class="t" style="left:1133.31px;top:690.71px;font-size:17.70px;font-weight:700;color:#fbeee6;transform:rotate(0.28deg) scaleX(0.8853)">GESAMT</div>
<div class="t" style="left:1339.52px;top:692.31px;font-size:17.70px;font-weight:700;color:#fbeee6;transform:rotate(0.28deg) scaleX(0.9796)">100 %</div>
<div class="t" style="left:1570.80px;top:694.11px;font-size:17.70px;font-weight:700;color:#fbeee6;transform:rotate(0.28deg) scaleX(0.9516)">483,9 MRD.</div>
<div class="t" style="left:1125.09px;top:765.93px;font-size:20.40px;font-weight:400;color:#2c2c2c;-webkit-text-stroke:0.28px #ebebeb;transform:rotate(0.28deg) scaleX(0.9572)">Der Anteil des aus erneuerbaren Energien erzeugten Stroms lag 2023 bei 55</div>
<div class="t" style="left:1125.17px;top:797.73px;font-size:20.40px;font-weight:400;color:#2c2c2c;-webkit-text-stroke:0.28px #ebebeb;transform:rotate(0.28deg) scaleX(0.9137)">Prozent (2022: 48,4 Prozent) oder 267 Milliarden Kilowattstunden. Der Strommix</div>
<div class="t" style="left:1126.09px;top:828.43px;font-size:20.40px;font-weight:400;color:#2c2c2c;-webkit-text-stroke:0.28px #ebebeb;transform:rotate(0.28deg) scaleX(0.9099)">2022 verursachte einen durchschnittlichen CO2-Ausstoß von 432 Gramm pro Ki-</div>
<div class="t" style="left:1126.09px;top:859.93px;font-size:20.40px;font-weight:400;color:#2c2c2c;-webkit-text-stroke:0.28px #ebebeb;transform:rotate(0.28deg) scaleX(0.9149)">lowattstunde – immer noch mehr als das Doppelte der reinen Verbrennung einer</div>
<div class="t" style="left:1125.19px;top:891.43px;font-size:20.40px;font-weight:400;color:#2c2c2c;-webkit-text-stroke:0.28px #ebebeb;transform:rotate(0.28deg) scaleX(0.9062)">Kilowattstunde Gas. Wieso also dann von Gas auf Strom wechseln?</div>
<div class="t" style="left:1125.44px;top:982.96px;font-size:24.50px;font-weight:700;color:#da7036;transform:rotate(0.28deg) scaleX(0.9313)">DURCH DIE UMSTELLUNG</div>
<div class="t" style="left:1126.09px;top:1015.66px;font-size:24.50px;font-weight:700;color:#da7036;transform:rotate(0.28deg) scaleX(0.9062)">STEIGT DER STROMBEDARF WEITER AN</div>
<div class="t" style="left:1123.08px;top:1080.53px;font-size:20.40px;font-weight:400;color:#2c2c2c;-webkit-text-stroke:0.28px #ebebeb;transform:rotate(0.28deg) scaleX(0.9615)">Mit jeder Wärmepumpe, die eine fossile Heizung ablöst, und mit jedem Elek-</div>
<div class="t" style="left:1125.00px;top:1112.03px;font-size:20.40px;font-weight:400;color:#2c2c2c;-webkit-text-stroke:0.28px #ebebeb;transform:rotate(0.28deg) scaleX(0.9601)">troauto, das einen Verbrenner ersetzt, steigt der Strombedarf in Deutschland</div>
<div class="t" style="left:1125.00px;top:1143.23px;font-size:20.40px;font-weight:400;color:#2c2c2c;-webkit-text-stroke:0.28px #ebebeb;transform:rotate(0.28deg) scaleX(0.9671)">weiter an. Oft wird dieser Mehrbedarf mit dem Verbrauch von Wärmepumpe</div>
<div class="t" style="left:1124.08px;top:1174.43px;font-size:20.40px;font-weight:400;color:#2c2c2c;-webkit-text-stroke:0.28px #ebebeb;transform:rotate(0.28deg) scaleX(0.9200)">und E-Auto gleichgesetzt. Das ist aber ein entscheidender Rechenfehler bei der</div>
<div class="t" style="left:1123.09px;top:1205.43px;font-size:20.40px;font-weight:400;color:#2c2c2c;-webkit-text-stroke:0.28px #ebebeb;transform:rotate(0.28deg) scaleX(0.9559)">Ermittlung der zukünftig benötigten Strommenge. Denn auch fossile Verbrau-</div>
<div class="t" style="left:1124.10px;top:1236.93px;font-size:20.40px;font-weight:400;color:#2c2c2c;-webkit-text-stroke:0.28px #ebebeb;transform:rotate(0.28deg) scaleX(0.8976)">cher sind auf Strom angewiesen: Eine Gastherme aus dem Jahr 2 000 verbraucht</div>
<div class="t" style="left:1791.80px;top:1336.04px;font-size:19.80px;font-weight:400;color:#222;-webkit-text-stroke:0.28px #ebebeb;transform:rotate(0.28deg) scaleX(0.6476)">41</div>
</div>
</body></html>
